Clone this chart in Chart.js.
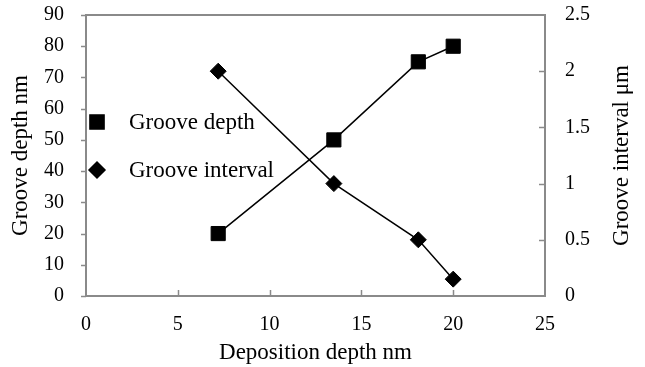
<!DOCTYPE html>
<html>
<head>
<meta charset="utf-8">
<script src="https://cdn.jsdelivr.net/npm/chart.js@4/dist/chart.umd.min.js"></script>
<style>
  html, body { margin: 0; padding: 0; background: #fff; }
  #wrap { width: 645px; height: 367px; }
</style>
</head>
<body>
<div id="wrap"><canvas id="c" width="645" height="367"></canvas></div>
<script>
// ---- Data ----
const depositionDepth = [7.2, 13.5, 18.1, 20];
const grooveDepth     = [20, 50, 75, 80];
const grooveInterval  = [2.0, 1.0, 0.5, 0.15];
const seriesLabels    = ['Groove depth', 'Groove interval'];
const axisTitles      = { x: 'Deposition depth nm', y: 'Groove depth nm', y2: 'Groove interval \u03bcm' };

const FONT = '"Liberation Serif", "Times New Roman", serif';
const AXIS_COLOR = '#8a8a8a';

const toPoints = (xs, ys) => xs.map((x, i) => ({ x: x, y: ys[i] }));

function noPad(s) { s.paddingTop = 0; s.paddingBottom = 0; s.paddingLeft = 0; s.paddingRight = 0; }

// tick marks + plot frame + right title + in-plot legend
const decor = {
  id: 'decor',
  afterDraw(chart) {
    const ctx = chart.ctx;
    const a = chart.chartArea;
    ctx.save();
    ctx.strokeStyle = AXIS_COLOR;
    ctx.lineWidth = 2;
    ctx.beginPath();
    ctx.moveTo(a.left, a.top); ctx.lineTo(a.right, a.top);
    ctx.stroke();
    ctx.lineWidth = 1.5;
    const sx = chart.scales.x, sy = chart.scales.y, sy2 = chart.scales.y2;
    ctx.beginPath();
    sx.ticks.forEach(t => {
      if (t.value <= sx.min || t.value >= sx.max) return;
      const p = Math.round(sx.getPixelForValue(t.value)) + 0.5;
      ctx.moveTo(p, a.bottom); ctx.lineTo(p, a.bottom - 6);
    });
    sy.ticks.forEach(t => {
      const p = Math.round(sy.getPixelForValue(t.value)) + 0.5;
      ctx.moveTo(a.left - 5, p); ctx.lineTo(a.left, p);
    });
    sy2.ticks.forEach(t => {
      if (t.value <= sy2.min || t.value >= sy2.max) return;
      const p = Math.round(sy2.getPixelForValue(t.value)) + 0.5;
      ctx.moveTo(a.right, p); ctx.lineTo(a.right - 6, p);
    });
    ctx.stroke();

    // right axis title, reading bottom-to-top
    ctx.fillStyle = '#000';
    ctx.font = '23px ' + FONT;
    ctx.textAlign = 'center';
    ctx.textBaseline = 'middle';
    ctx.save();
    ctx.translate(622, (a.top + a.bottom) / 2);
    ctx.rotate(-Math.PI / 2);
    ctx.fillText(axisTitles.y2, 0, 0);
    ctx.restore();

    // legend inside plot
    const items = chart.data.datasets;
    const lx = a.left + 11, tx = a.left + 43;
    const ys = [a.top + 107, a.top + 155];
    ctx.textAlign = 'left';
    items.forEach((ds, i) => {
      ctx.fillStyle = '#000';
      ctx.strokeStyle = '#000';
      Chart.helpers.drawPoint(ctx, {
        pointStyle: ds.pointStyle,
        radius: ds.pointRadius,
        borderWidth: 1,
        rotation: 0
      }, lx, ys[i]);
      ctx.fillStyle = '#000';
      ctx.fillText(ds.label, tx, ys[i] + 1);
    });
    ctx.restore();
  }
};

new Chart(document.getElementById('c'), {
  type: 'scatter',
  data: {
    datasets: [
      {
        label: seriesLabels[0],
        data: toPoints(depositionDepth, grooveDepth),
        yAxisID: 'y',
        showLine: true,
        borderColor: '#000',
        backgroundColor: '#000',
        borderWidth: 1.5,
        pointStyle: 'rect',
        pointRadius: 10,
        pointBorderWidth: 1,
        pointBackgroundColor: '#000',
        pointBorderColor: '#000'
      },
      {
        label: seriesLabels[1],
        data: toPoints(depositionDepth, grooveInterval),
        yAxisID: 'y2',
        showLine: true,
        borderColor: '#000',
        backgroundColor: '#000',
        borderWidth: 1.5,
        pointStyle: 'rectRot',
        pointRadius: 8,
        pointBorderWidth: 1,
        pointBackgroundColor: '#000',
        pointBorderColor: '#000'
      }
    ]
  },
  options: {
    responsive: false,
    animation: false,
    devicePixelRatio: 1,
    layout: { padding: { top: 15, left: 0, right: 0, bottom: 0 } },
    plugins: {
      legend: { display: false },
      tooltip: { enabled: false }
    },
    scales: {
      x: {
        type: 'linear',
        position: 'bottom',
        min: 0, max: 25,
        ticks: { stepSize: 5, color: '#000', font: { family: FONT, size: 20 }, padding: 17, maxRotation: 0 },
        grid: { display: false, drawTicks: false },
        border: { display: true, color: AXIS_COLOR, width: 2 },
        title: { display: true, text: axisTitles.x, color: '#000', font: { family: FONT, size: 23 }, padding: { top: 0, bottom: 0 } },
        afterFit(s) { s.height = 71; noPad(s); }
      },
      y: {
        type: 'linear',
        position: 'left',
        min: 0, max: 90,
        ticks: { stepSize: 10, color: '#000', font: { family: FONT, size: 20 }, padding: 22 },
        grid: { display: false, drawTicks: false },
        border: { display: true, color: AXIS_COLOR, width: 2 },
        title: { display: true, text: axisTitles.y, color: '#000', font: { family: FONT, size: 23 }, padding: { top: 7, bottom: 0 } },
        afterFit(s) { s.width = 86; noPad(s); }
      },
      y2: {
        type: 'linear',
        position: 'right',
        min: 0, max: 2.5,
        ticks: { stepSize: 0.5, color: '#000', font: { family: FONT, size: 20 }, padding: 20, callback: v => String(v) },
        grid: { display: false, drawTicks: false },
        border: { display: true, color: AXIS_COLOR, width: 2 },
        title: { display: false },
        afterFit(s) { s.width = 100; noPad(s); }
      }
    }
  },
  plugins: [decor]
});
</script>
</body>
</html>
